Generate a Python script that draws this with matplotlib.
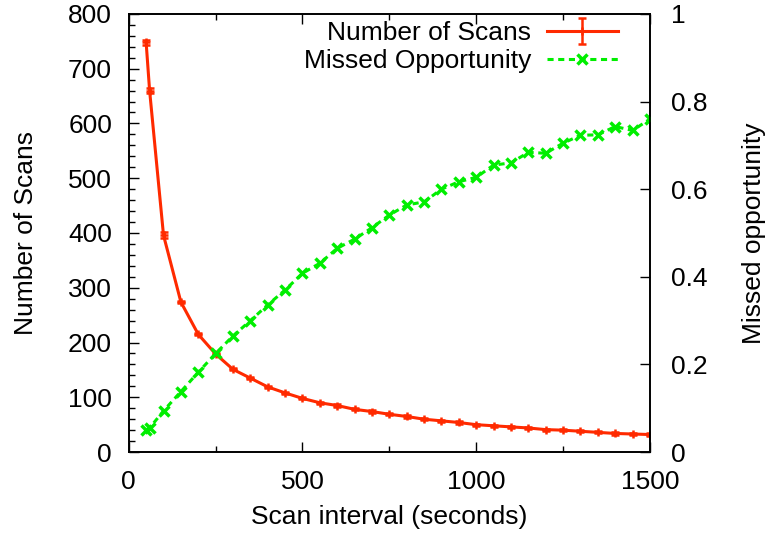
import matplotlib
matplotlib.use("Agg")
import matplotlib.pyplot as plt
from matplotlib.ticker import MultipleLocator

plt.rcParams['font.family'] = ['Liberation Sans', 'DejaVu Sans']
plt.rcParams['font.size'] = 19

# scan interval (seconds)
interval = [50, 60, 100, 150, 200, 250, 300, 350, 400, 450, 500, 550, 600, 650,
            700, 750, 800, 850, 900, 950, 1000, 1050, 1100, 1150, 1200, 1250,
            1300, 1350, 1400, 1450, 1500]

# number of scans with error
scans = [748, 660, 396, 274, 215, 179, 151, 135, 119, 108, 98, 90, 85, 78,
         74, 69, 65, 60, 57, 54, 50, 48, 46, 44, 41, 40, 38, 36, 34, 33, 32]
scans_err = [5, 5, 6, 2, 2, 2, 2, 2, 2, 2, 2, 2, 2, 2,
             2, 2, 2, 2, 2, 2, 2, 2, 2, 2, 2, 2, 2, 2, 2, 2, 2]

# missed opportunity fraction
missed = [0.050, 0.055, 0.094, 0.138, 0.182, 0.225, 0.265, 0.300, 0.336, 0.370,
          0.408, 0.431, 0.465, 0.486, 0.512, 0.541, 0.564, 0.571, 0.600, 0.617,
          0.627, 0.655, 0.660, 0.684, 0.682, 0.705, 0.723, 0.724, 0.743, 0.734,
          0.760]

red = '#ff2a00'
green = '#00ee00'

fig = plt.figure(figsize=(7.71, 5.35), dpi=100)
ax = fig.add_axes([0.167, 0.155, 0.676, 0.819])
ax2 = ax.twinx()

h1 = ax.errorbar(interval, scans, yerr=scans_err, color=red, lw=2.2,
                 marker='+', ms=6, mew=1.8, capsize=3, elinewidth=1.8,
                 capthick=1.8, label='Number of Scans')
h2, = ax2.plot(interval, missed, color=green, lw=2.2, ls=(0, (2, 1.5)),
               marker='x', ms=7, mew=2.5, label='Missed Opportunity')

ax.set_xlim(0, 1500)
ax.set_ylim(0, 800)
ax2.set_ylim(0, 1)

ax.xaxis.set_major_locator(MultipleLocator(500))
ax.xaxis.set_minor_locator(MultipleLocator(250))
ax.yaxis.set_major_locator(MultipleLocator(100))
ax.yaxis.set_minor_locator(MultipleLocator(20))
ax2.set_yticks([0, 0.2, 0.4, 0.6, 0.8, 1.0])
ax2.set_yticklabels(['0', '0.2', '0.4', '0.6', '0.8', '1'])

ax.tick_params(axis='x', which='both', direction='in', top=True, pad=13)
ax.tick_params(axis='y', which='both', direction='in', right=False, pad=12)
ax.tick_params(which='major', length=7, width=1)
ax.tick_params(which='minor', length=4, width=1)
ax2.tick_params(axis='y', direction='in', length=7, width=1, pad=15)

for a in (ax, ax2):
    for s in a.spines.values():
        s.set_linewidth(1.2)

ax.set_xlabel('Scan interval (seconds)', labelpad=8)
ax.set_ylabel('Number of Scans', labelpad=22)
ax2.set_ylabel('Missed opportunity', labelpad=25)

leg = ax.legend([h1, h2], ['Number of Scans', 'Missed Opportunity'],
                loc='upper right', frameon=False, markerfirst=False,
                handlelength=2.7, handletextpad=0.6, borderaxespad=0,
                borderpad=0, labelspacing=0.15,
                bbox_to_anchor=(618 / 771, 1 - 21 / 535),
                bbox_transform=fig.transFigure)
for t in leg.get_texts():
    t.set_ha('right')

fig.savefig('out.png', dpi=100)
